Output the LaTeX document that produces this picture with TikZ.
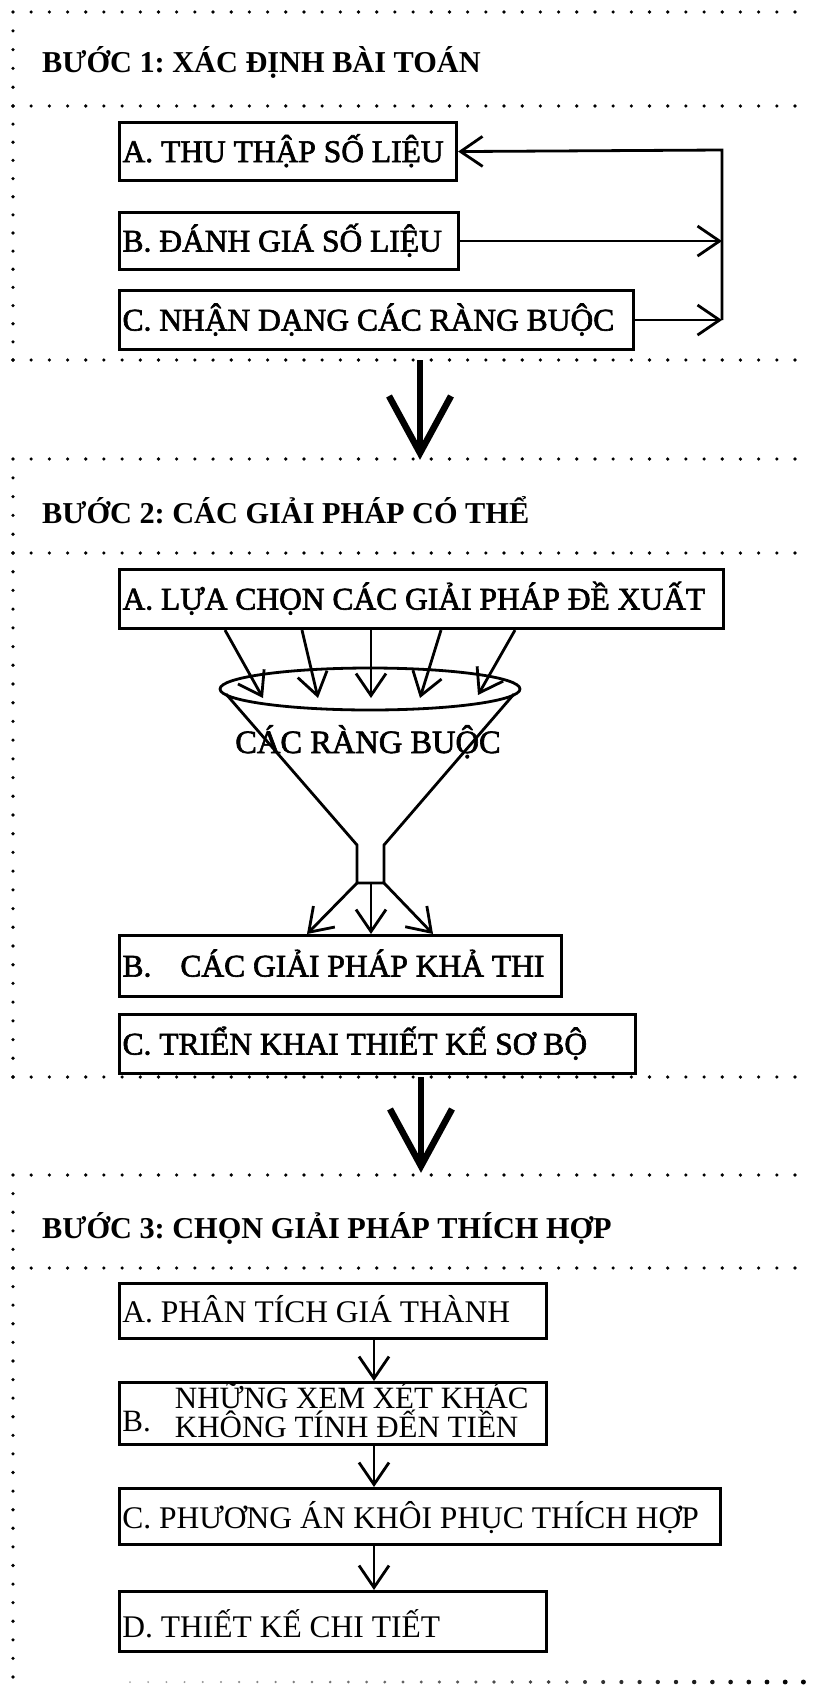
\documentclass[tikz,border=0pt]{standalone}
\usepackage{fontspec}
\setmainfont{Liberation Serif}
\newfontfamily\inkserif[FakeBold=2]{Liberation Serif}
\usetikzlibrary{arrows.meta,shapes.geometric}
% one line of box text, left aligned in a field of fixed width
\newcommand{\boxline}[2]{\makebox[#1][l]{#2}}
\frenchspacing

\begin{document}
\begin{tikzpicture}[x=1pt,y=-1pt,
  dotmark/.style={fill=black},
  stepbox/.style={draw, line width=3.1pt, anchor=north west, inner xsep=3pt,
    inner ysep=0pt, font=\inkserif\fontsize{31.5}{34}\selectfont},
  plainbox/.style={stepbox, line width=2.9pt, font=\fontsize{31.5}{34}\selectfont},
  steptitle/.style={anchor=base west, inner sep=0pt,
    font=\bfseries\fontsize{30.3}{34}\selectfont},
  link/.style={line width=2.8pt, line join=miter,
    -{Straight Barb[length=22pt,width=30pt]}},
  funnel/.style={line width=2.8pt, line join=miter},
  bigarrow/.style={line width=6.5pt, line join=miter},
]
\fill[white] (0,0) rectangle (812,1689);
\useasboundingbox (0,0) rectangle (812,1689);

% dotted frame rows
\foreach \yr in {12,106,360,459,553,1077,1175,1268}
  \foreach \i in {0,...,43}
    \fill[dotmark] ({13+\i*18.186},\yr) circle (1.8pt);
% dotted left columns of the three frames
\foreach \ya/\yb in {12/106,106/360,459/553,553/1077,1175/1268,1268/1677}{
  \pgfmathtruncatemacro{\nd}{round((\yb-\ya)/18.5)}
  \foreach \k in {1,...,\nd}
    \fill[dotmark] (13,{\ya+\k*(\yb-\ya)/\nd}) circle (1.8pt);
}
% last row, fading in from the left
\foreach \i in {0,...,37}{
  \pgfmathsetmacro{\rr}{1.0+\i*0.04}
  \pgfmathtruncatemacro{\cc}{35+\i*1.75}
  \fill[black!\cc] ({130+\i*18.2},1682) circle (\rr pt);
}

% step titles
\node[steptitle] (t1) at (42,72) {BƯỚC 1: XÁC ĐỊNH BÀI TOÁN};
\node[steptitle] (t2) at (42,523) {BƯỚC 2: CÁC GIẢI PHÁP CÓ THỂ};
\node[steptitle] (t3) at (42,1238) {BƯỚC 3: CHỌN GIẢI PHÁP THÍCH HỢP};

% step 1
\node[stepbox, text height=39.5pt, text depth=18.5pt] (A1) at (118,121) {\boxline{331pt}{A. THU THẬP SỐ LIỆU}};
\node[stepbox, text height=39pt, text depth=18pt] (B1) at (118,211) {\boxline{333pt}{B. ĐÁNH GIÁ SỐ LIỆU}};
\node[stepbox, text height=40pt, text depth=19pt] (C1) at (118,289) {\boxline{508pt}{C. NHẬN DẠNG CÁC RÀNG BUỘC}};

\coordinate (loopT) at (722,150);
\draw[link] (C1.east -| loopT) -- (loopT) -- (A1.east);
\draw[link] (B1.east) -- (B1.east -| loopT);
\draw[link] (C1.east) -- (C1.east -| loopT);

% step 1 -> step 2
\coordinate (g1a) at (420,360);
\coordinate (g1b) at (420,453);
\draw[bigarrow] (g1a) -- (g1b);
\draw[bigarrow] (g1b) ++(-31,-57) -- (g1b) -- ++(31,-57);

% step 2
\node[stepbox, text height=40pt, text depth=19pt] (A2) at (118,568) {\boxline{598pt}{A. LỰA CHỌN CÁC GIẢI PHÁP ĐỀ XUẤT}};

\node[draw, ellipse, line width=2.8pt, minimum width=300pt, minimum height=42pt, inner sep=0pt] (rim) at (370,689) {};
\coordinate (cl) at (226,694);
\coordinate (cr) at (514,694);
\coordinate (nl) at (357,845);
\coordinate (nr) at (384,845);
\coordinate (nlb) at (357,883);
\coordinate (nrb) at (384,883);
\coordinate (nmb) at (371,883);
\draw[funnel] (cl) -- (nl) -- (nlb) -- (nrb) -- (nr) -- (cr);
\node[anchor=base, inner sep=0pt, font=\inkserif\fontsize{32.5}{34}\selectfont] (lbl) at (368,753) {CÁC RÀNG BUỘC};

\coordinate (r1) at (263,698);
\coordinate (r2) at (318,698);
\coordinate (r3) at (371,698);
\coordinate (r4) at (420,698);
\coordinate (r5) at (478,695);
\draw[link] (225,0 |- A2.south) -- (r1);
\draw[link] (302,0 |- A2.south) -- (r2);
\draw[link] (371,0 |- A2.south) -- (r3);
\draw[link] (441,0 |- A2.south) -- (r4);
\draw[link] (515,0 |- A2.south) -- (r5);

\node[stepbox, text height=41pt, text depth=20pt] (B2) at (118,934) {\boxline{436pt}{B.\hspace{29pt}CÁC GIẢI PHÁP KHẢ THI}};
\node[stepbox, text height=40pt, text depth=19pt] (C2) at (118,1013) {\boxline{510pt}{C. TRIỂN KHAI THIẾT KẾ SƠ BỘ}};

\draw[link] (nlb) -- (307,0 |- B2.north);
\draw[link] (nmb) -- (nmb |- B2.north);
\draw[link] (nrb) -- (433,0 |- B2.north);

% step 2 -> step 3
\coordinate (g2a) at (421,1077);
\coordinate (g2b) at (421,1166);
\draw[bigarrow] (g2a) -- (g2b);
\draw[bigarrow] (g2b) ++(-31,-57) -- (g2b) -- ++(31,-57);

% step 3
\node[plainbox, text height=39.5pt, text depth=15.5pt] (A3) at (118,1282) {\boxline{421pt}{A. PHÂN TÍCH GIÁ THÀNH}};
\node[plainbox, text height=55pt, text depth=7pt] (B3) at (118,1381)
  {\boxline{421pt}{\fontsize{31}{29}\selectfont\raisebox{6pt}{B.}\hspace{24pt}\begin{tabular}[b]{@{}l@{}}\smash{NHỮNG XEM XÉT KHÁC}\\\smash{KHÔNG TÍNH ĐẾN TIỀN}\end{tabular}}};
\node[plainbox, text height=40pt, text depth=16pt] (C3) at (118,1487) {\boxline{595pt}{C. PHƯƠNG ÁN KHÔI PHỤC THÍCH HỢP}};
\node[plainbox, text height=46pt, text depth=14pt] (D3) at (118,1590) {\boxline{421pt}{D. THIẾT KẾ CHI TIẾT}};

\draw[link] (374,0 |- A3.south) -- (374,0 |- B3.north);
\draw[link] (374,0 |- B3.south) -- (374,0 |- C3.north);
\draw[link] (374,0 |- C3.south) -- (374,0 |- D3.north);
\end{tikzpicture}
\end{document}
